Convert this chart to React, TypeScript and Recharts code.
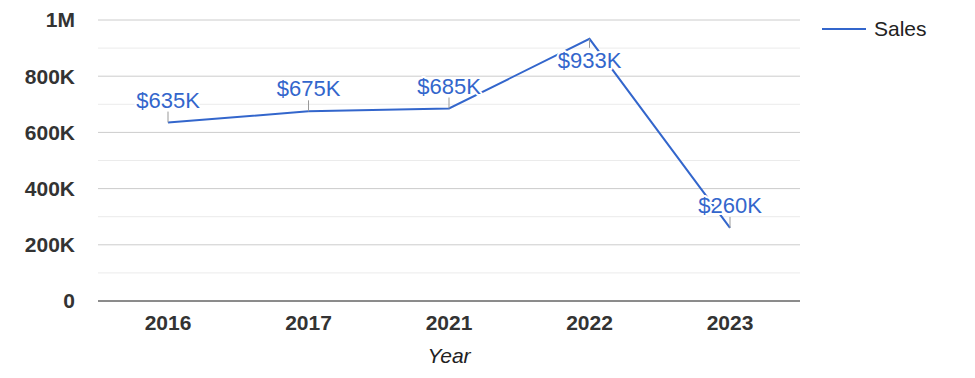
import { LineChart, Line, XAxis, YAxis, CartesianGrid, LabelList } from "recharts";

const years = ["2016", "2017", "2021", "2022", "2023"];
const sales = [635000, 675000, 685000, 933000, 260000];
const salesLabels = ["$635K", "$675K", "$685K", "$933K", "$260K"];
const majorTicks = [0, 200000, 400000, 600000, 800000, 1000000];
const minorTicks = [100000, 300000, 500000, 700000, 900000];
const labelBelow = [false, false, false, true, false];

const data = years.map((y, i) => ({ year: y, Sales: sales[i], label: salesLabels[i] }));

const FONT = '"Liberation Sans", Arial, sans-serif';
const BLUE = "#3366cc";

function fmtY(v: number) {
  if (v === 0) return "0";
  if (v >= 1000000) return `${v / 1000000}M`;
  return `${v / 1000}K`;
}

function PointLabel(props: any) {
  const { x, y, index } = props;
  const below = labelBelow[index];
  const baseline = below ? y + 29 : y - 15;
  return (
    <g>
      <line x1={x} x2={x} y1={below ? y : y - 11} y2={below ? y + 9 : y} stroke="#999" strokeWidth={1} />
      <text
        x={x}
        y={baseline}
        textAnchor="middle"
        fontFamily={FONT}
        fontSize={22}
        fill={BLUE}
        stroke="#fff"
        strokeWidth={4}
        strokeLinejoin="round"
        style={{ paintOrder: "stroke" }}
      >
        {salesLabels[index]}
      </text>
    </g>
  );
}

export default function App() {
  return (
    <div style={{ position: "absolute", left: 0, top: 0, width: 975, height: 378, background: "#fff" }}>
      <LineChart width={975} height={378} data={data} margin={{ top: 20, right: 175, left: 0, bottom: 0 }}>
        <CartesianGrid vertical={false} horizontalValues={minorTicks} stroke="#ebebeb" />
        <CartesianGrid vertical={false} horizontalValues={majorTicks} stroke="#cccccc" />
        <XAxis
          dataKey="year"
          height={77}
          padding={{ left: 70, right: 70 }}
          tickLine={false}
          tickSize={0}
          tickMargin={14}
          axisLine={{ stroke: "#333", strokeWidth: 1 }}
          tick={{ fill: "#333", fontSize: 21, fontWeight: "bold", fontFamily: FONT }}
          label={(p: any) => {
            const vb = p.viewBox;
            return (
              <text x={vb.x + vb.width / 2} y={vb.y + 62} textAnchor="middle" fontFamily={FONT} fontSize={21} fontStyle="italic" fill="#222">
                Year
              </text>
            );
          }}
        />
        <YAxis
          width={98}
          domain={[0, 1000000]}
          ticks={majorTicks}
          tickFormatter={fmtY}
          axisLine={false}
          tickLine={false}
          tickSize={0}
          tickMargin={23}
          tick={{ fill: "#333", fontSize: 21, fontWeight: "bold", fontFamily: FONT }}
        />
        <Line dataKey="Sales" stroke={BLUE} strokeWidth={2} dot={false} isAnimationActive={false}>
          <LabelList dataKey="label" content={<PointLabel />} />
        </Line>
      </LineChart>
      <div
        style={{
          position: "absolute",
          left: 822,
          top: 17,
          display: "flex",
          alignItems: "center",
          fontFamily: FONT,
          fontSize: 21,
          color: "#222",
        }}
      >
        <svg width={44} height={4} style={{ marginRight: 8 }}>
          <line x1={0} x2={44} y1={2} y2={2} stroke={BLUE} strokeWidth={2} />
        </svg>
        <span>Sales</span>
      </div>
    </div>
  );
}
